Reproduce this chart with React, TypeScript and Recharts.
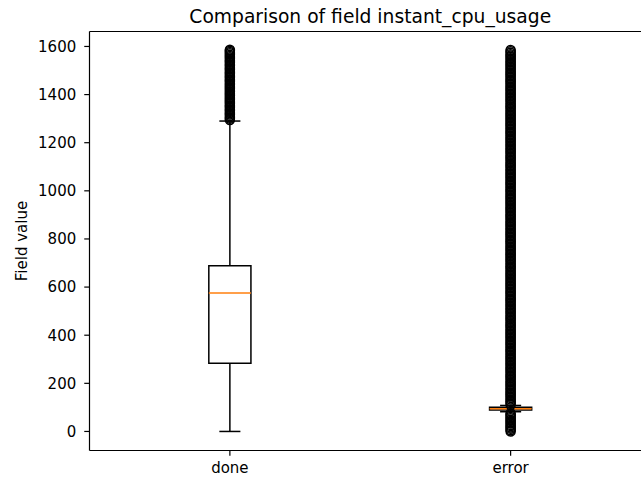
import React from 'react';
import {
  ComposedChart,
  XAxis,
  YAxis,
  Scatter,
  ReferenceArea,
  ReferenceLine,
  Label,
} from 'recharts';

// Category names and the y-axis ticks
const CATEGORIES = ['done', 'error'];
const Y_TICKS = [0, 200, 400, 600, 800, 1000, 1200, 1400, 1600];

// Five-number summaries per category: [whiskerLow, q1, median, q3, whiskerHigh]
const DONE_STATS = [0, 283, 575, 689, 1290];
const ERROR_STATS = [82, 89, 94, 101, 108];

// Outliers beyond the whiskers
const DONE_FLIERS = [
  1294, 1300, 1305, 1311, 1317, 1322, 1328, 1334, 1339, 1345, 1351, 1356, 1362,
  1368, 1373, 1379, 1385, 1390, 1396, 1402, 1407, 1413, 1419, 1424, 1430, 1436,
  1441, 1447, 1453, 1458, 1464, 1470, 1475, 1481, 1487, 1492, 1498, 1504, 1509,
  1515, 1521, 1526, 1532, 1538, 1543, 1549, 1555, 1560, 1566, 1572, 1577, 1582,
  1586,
];
const ERROR_FLIERS = [
  0, 5, 11, 16, 22, 27, 33, 38, 44, 49, 55, 60, 66, 71, 76,
  110, 116, 122, 127, 133, 139, 145, 151, 157, 162, 168, 174, 180, 186, 192,
  197, 203, 209, 215, 221, 227, 232, 238, 244, 250, 256, 262, 267, 273, 279,
  285, 291, 297, 302, 308, 314, 320, 326, 332, 337, 343, 349, 355, 361, 367,
  372, 378, 384, 390, 396, 402, 407, 413, 419, 425, 431, 437, 442, 448, 454,
  460, 466, 472, 477, 483, 489, 495, 501, 507, 512, 518, 524, 530, 536, 542,
  547, 553, 559, 565, 571, 577, 582, 588, 594, 600, 606, 612, 617, 623, 629,
  635, 641, 647, 652, 658, 664, 670, 676, 682, 687, 693, 699, 705, 711, 717,
  722, 728, 734, 740, 746, 752, 757, 763, 769, 775, 781, 787, 792, 798, 804,
  810, 816, 822, 827, 833, 839, 845, 851, 857, 862, 868, 874, 880, 886, 892,
  897, 903, 909, 915, 921, 927, 932, 938, 944, 950, 956, 962, 967, 973, 979,
  985, 991, 997, 1002, 1008, 1014, 1020, 1026, 1032, 1037, 1043, 1049, 1055,
  1061, 1067, 1072, 1078, 1084, 1090, 1096, 1102, 1107, 1113, 1119, 1125, 1131,
  1137, 1142, 1148, 1154, 1160, 1166, 1172, 1177, 1183, 1189, 1195, 1201, 1207,
  1212, 1218, 1224, 1230, 1236, 1242, 1247, 1253, 1259, 1265, 1271, 1277, 1282,
  1288, 1294, 1300, 1306, 1312, 1317, 1323, 1329, 1335, 1341, 1347, 1352, 1358,
  1364, 1370, 1376, 1382, 1387, 1393, 1399, 1405, 1411, 1417, 1422, 1428, 1434,
  1440, 1446, 1452, 1457, 1463, 1469, 1475, 1481, 1487, 1492, 1498, 1504, 1510,
  1516, 1522, 1527, 1533, 1539, 1545, 1551, 1557, 1562, 1568, 1574, 1580, 1585,
];

const TITLE = 'Comparison of field instant_cpu_usage';
const Y_LABEL = 'Field value';

const FONT = '"DejaVu Sans", sans-serif';
const DATA_MAX = 1583;
const Y_MIN = -0.05 * DATA_MAX;
const Y_MAX = 1.05 * DATA_MAX;
const X_MIN = 0.5;
const X_MAX = 2.5;
const BOX_HALF = 0.075;
const CAP_HALF = 0.0375;
const MEDIAN_COLOR = '#ff7f0e';
const LINE_W = 1.5;
const SPINE_W = 1.2;

const Ring = (props: any) => {
  const { cx, cy } = props;
  if (cx == null || cy == null) return null;
  return <circle cx={cx} cy={cy} r={4.5} fill="none" stroke="#000" strokeWidth={1.5} />;
};

function renderBox(pos: number, stats: number[], key: string) {
  const [lo, q1, med, q3, hi] = stats;
  const line = { stroke: '#000', strokeWidth: LINE_W, ifOverflow: 'visible' as const };
  return [
    <ReferenceLine key={key + 'wl'} segment={[{ x: pos, y: lo }, { x: pos, y: q1 }]} {...line} />,
    <ReferenceLine key={key + 'wh'} segment={[{ x: pos, y: q3 }, { x: pos, y: hi }]} {...line} />,
    <ReferenceLine
      key={key + 'cl'}
      segment={[{ x: pos - CAP_HALF, y: lo }, { x: pos + CAP_HALF, y: lo }]}
      {...line}
    />,
    <ReferenceLine
      key={key + 'ch'}
      segment={[{ x: pos - CAP_HALF, y: hi }, { x: pos + CAP_HALF, y: hi }]}
      {...line}
    />,
    <ReferenceArea
      key={key + 'box'}
      x1={pos - BOX_HALF}
      x2={pos + BOX_HALF}
      y1={q1}
      y2={q3}
      fill="none"
      fillOpacity={0}
      stroke="#000"
      strokeWidth={LINE_W}
      strokeOpacity={1}
      ifOverflow="visible"
    />,
    <ReferenceLine
      key={key + 'med'}
      segment={[{ x: pos - BOX_HALF, y: med }, { x: pos + BOX_HALF, y: med }]}
      stroke={MEDIAN_COLOR}
      strokeWidth={LINE_W}
      ifOverflow="visible"
    />,
  ];
}

const renderYLabel = (p: any) => {
  const vb = p.viewBox || { x: 0, y: 0, width: 0, height: 0 };
  const x = vb.x + 26.5;
  const y = vb.y + vb.height / 2;
  return (
    <text
      x={x}
      y={y}
      transform={`rotate(-90, ${x}, ${y})`}
      textAnchor="middle"
      fontFamily={FONT}
      fontSize={15}
      fill="#000"
    >
      {Y_LABEL}
    </text>
  );
};

export default function App() {
  const doneFliers = DONE_FLIERS.map((v) => ({ x: 1, y: v }));
  const errorFliers = ERROR_FLIERS.map((v) => ({ x: 2, y: v }));
  const tick = { fontFamily: FONT, fontSize: 15, fill: '#000' };

  return (
    <div
      style={{
        position: 'fixed',
        left: 0,
        top: 0,
        width: 641,
        height: 478,
        overflow: 'hidden',
        background: '#fff',
      }}
    >
      <ComposedChart
        width={660}
        height={478}
        margin={{ top: 31.5, right: 9, bottom: 0, left: 0 }}
        style={{ fontFamily: FONT }}
      >
        <XAxis
          type="number"
          dataKey="x"
          domain={[X_MIN, X_MAX]}
          ticks={[1, 2]}
          tickFormatter={(v: number) => CATEGORIES[v - 1] ?? ''}
          allowDataOverflow
          height={27.5}
          tickSize={5.25}
          tickMargin={6.5}
          tick={tick}
          axisLine={{ stroke: '#000', strokeWidth: SPINE_W }}
          tickLine={{ stroke: '#000', strokeWidth: SPINE_W }}
        />
        <YAxis
          type="number"
          dataKey="y"
          domain={[Y_MIN, Y_MAX]}
          ticks={Y_TICKS}
          allowDataOverflow
          width={89.5}
          tickSize={5.25}
          tickMargin={8}
          tick={tick}
          axisLine={{ stroke: '#000', strokeWidth: SPINE_W }}
          tickLine={{ stroke: '#000', strokeWidth: SPINE_W }}
        >
          <Label content={renderYLabel} />
        </YAxis>

        <Scatter data={doneFliers} shape={<Ring />} isAnimationActive={false} />
        <Scatter data={errorFliers} shape={<Ring />} isAnimationActive={false} />

        {renderBox(1, DONE_STATS, 'done')}
        {renderBox(2, ERROR_STATS, 'error')}

        {/* top and right frame lines, with the title above the top one */}
        <ReferenceLine y={Y_MAX} stroke="#000" strokeWidth={SPINE_W} ifOverflow="visible">
          <Label
            value={TITLE}
            position="top"
            offset={8.8}
            fontFamily={FONT}
            fontSize={18.7}
            fill="#000"
          />
        </ReferenceLine>
        <ReferenceLine x={X_MAX} stroke="#000" strokeWidth={SPINE_W} ifOverflow="visible" />
      </ComposedChart>
    </div>
  );
}
